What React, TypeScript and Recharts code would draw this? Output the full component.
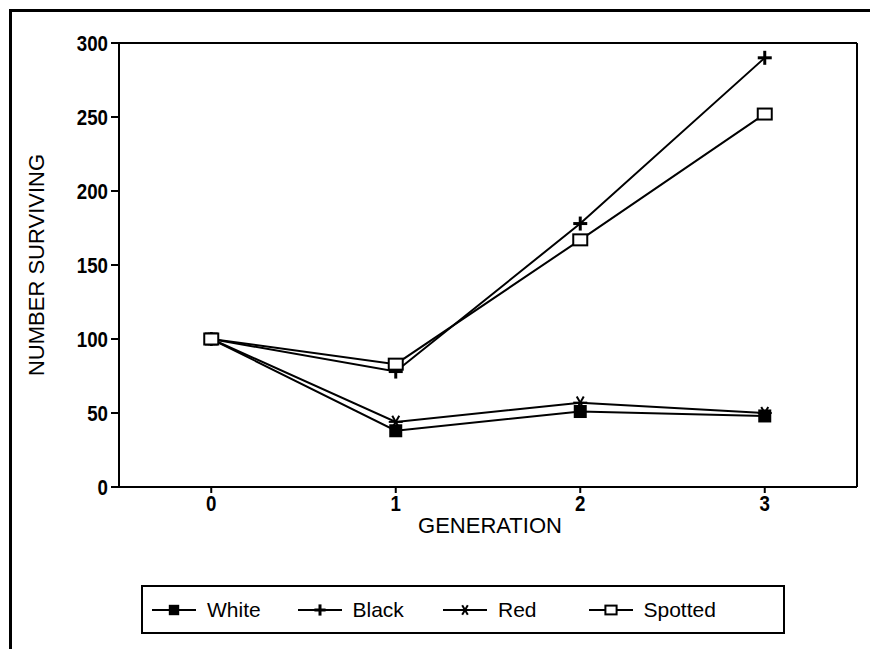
import React from 'react';
import { LineChart, Line, XAxis, YAxis, ReferenceLine, Legend } from 'recharts';

const generations = [0, 1, 2, 3];
const white = [100, 38, 51, 48];
const black = [100, 78, 178, 290];
const red = [100, 44, 57, 50];
const spotted = [100, 83, 167, 252];
const yTicks = [0, 50, 100, 150, 200, 250, 300];

const FONT = '"Liberation Sans", Arial, Helvetica, sans-serif';

const data = generations.map((g, i) => ({
    gen: g,
    White: white[i],
    Black: black[i],
    Red: red[i],
    Spotted: spotted[i],
}));

type Kind = 'square' | 'plus' | 'star' | 'box';

const SERIES: { key: string; kind: Kind }[] = [
    { key: 'White', kind: 'square' },
    { key: 'Black', kind: 'plus' },
    { key: 'Red', kind: 'star' },
    { key: 'Spotted', kind: 'box' },
];

function Marker({ kind, cx, cy, s = 1 }: { kind: Kind; cx: number; cy: number; s?: number }) {
    if (kind === 'square') {
        const h = 6.5 * s;
        return <rect x={cx - h} y={cy - h} width={h * 2} height={h * 2} fill="#000" />;
    }
    if (kind === 'plus') {
        const h = 7 * s;
        return (
            <g stroke="#000" strokeWidth={3}>
                <line x1={cx - h} y1={cy} x2={cx + h} y2={cy} />
                <line x1={cx} y1={cy - h} x2={cx} y2={cy + h} />
            </g>
        );
    }
    if (kind === 'star') {
        const h = 7 * s;
        const dx = h * 0.87;
        const dy = h * 0.5;
        return (
            <g stroke="#000" strokeWidth={2}>
                <line x1={cx - h} y1={cy} x2={cx + h} y2={cy} />
                <line x1={cx - dy} y1={cy - dx} x2={cx + dy} y2={cy + dx} />
                <line x1={cx - dy} y1={cy + dx} x2={cx + dy} y2={cy - dx} />
            </g>
        );
    }
    const w = 7 * s;
    const h = 5.5 * s;
    return <rect x={cx - w} y={cy - h} width={w * 2} height={h * 2} fill="#fff" stroke="#000" strokeWidth={2} />;
}

// bold digits, squeezed a little to look like the condensed face of the original
function YTick({ x, y, payload }: any) {
    return (
        <text
            transform={`translate(${x},${y}) scale(0.85,1)`}
            textAnchor="end"
            dy="0.36em"
            fontSize={22}
            fontWeight="bold"
            fontFamily={FONT}
            fill="#000"
        >
            {payload.value}
        </text>
    );
}

function XTick({ x, y, payload }: any) {
    return (
        <text
            transform={`translate(${x},${y}) scale(0.85,1)`}
            textAnchor="middle"
            dy="0.75em"
            fontSize={22}
            fontWeight="bold"
            fontFamily={FONT}
            fill="#000"
        >
            {payload.value}
        </text>
    );
}

function renderLegend() {
    return (
        <div
            style={{
                boxSizing: 'border-box',
                width: 644,
                height: 49,
                border: '2px solid #000',
                display: 'flex',
                alignItems: 'center',
                paddingLeft: 8,
                fontFamily: FONT,
                fontSize: 21,
                color: '#000',
            }}
        >
            {SERIES.map(s => (
                <div key={s.key} style={{ width: 145.5, display: 'flex', alignItems: 'center' }}>
                    <svg width={46} height={20} style={{ display: 'block' }}>
                        <line x1={1} y1={10} x2={45} y2={10} stroke="#000" strokeWidth={2} />
                        <Marker kind={s.kind} cx={23} cy={10} s={0.8} />
                    </svg>
                    <span style={{ marginLeft: 10 }}>{s.key}</span>
                </div>
            ))}
        </div>
    );
}

export default function App() {
    return (
        <div style={{ position: 'absolute', left: 0, top: 0, width: 870, height: 649, background: '#fff' }}>
            <div
                style={{
                    position: 'absolute',
                    left: 9,
                    top: 9,
                    width: 861,
                    height: 640,
                    borderTop: '3px solid #000',
                    borderLeft: '3px solid #000',
                    pointerEvents: 'none',
                }}
            />
            <LineChart
                width={870}
                height={649}
                data={data}
                margin={{ top: 43, right: 13, bottom: 100, left: 0 }}
                style={{ position: 'absolute', left: 0, top: 0 }}
            >
                <XAxis
                    dataKey="gen"
                    type="number"
                    domain={[-0.5, 3.5]}
                    ticks={generations}
                    height={62}
                    tickSize={6}
                    tickMargin={1}
                    axisLine={{ stroke: '#000', strokeWidth: 2 }}
                    tickLine={{ stroke: '#000', strokeWidth: 2 }}
                    tick={<XTick />}
                    label={{
                        content: (props: any) => {
                            const vb = props.viewBox;
                            return (
                                <text
                                    x={vb.x + vb.width / 2 + 2}
                                    y={vb.y + 46}
                                    textAnchor="middle"
                                    fontSize={22}
                                    fontFamily={FONT}
                                    fill="#000"
                                >
                                    GENERATION
                                </text>
                            );
                        },
                    }}
                />
                <YAxis
                    domain={[0, 300]}
                    ticks={yTicks}
                    width={119}
                    tickSize={8}
                    tickMargin={3}
                    axisLine={{ stroke: '#000', strokeWidth: 2 }}
                    tickLine={{ stroke: '#000', strokeWidth: 2 }}
                    tick={<YTick />}
                    label={{
                        content: (props: any) => {
                            const vb = props.viewBox;
                            const x = 44;
                            const y = vb.y + vb.height / 2;
                            return (
                                <text
                                    x={x}
                                    y={y}
                                    transform={`rotate(-90 ${x} ${y})`}
                                    textAnchor="middle"
                                    fontSize={22}
                                    fontFamily={FONT}
                                    fill="#000"
                                >
                                    NUMBER SURVIVING
                                </text>
                            );
                        },
                    }}
                />
                <ReferenceLine y={300} stroke="#000" strokeWidth={2} />
                <ReferenceLine x={3.5} stroke="#000" strokeWidth={2} />
                {SERIES.map(s => (
                    <Line
                        key={s.key}
                        dataKey={s.key}
                        stroke="#000"
                        strokeWidth={2}
                        isAnimationActive={false}
                        dot={(p: any) => <Marker key={`${s.key}-${p.index}`} kind={s.kind} cx={p.cx} cy={p.cy} />}
                        activeDot={false}
                    />
                ))}
                <Legend
                    layout="vertical"
                    align="center"
                    verticalAlign="middle"
                    content={renderLegend}
                    wrapperStyle={{ position: 'absolute', left: 141, top: 585, width: 644, height: 49 }}
                />
            </LineChart>
        </div>
    );
}
